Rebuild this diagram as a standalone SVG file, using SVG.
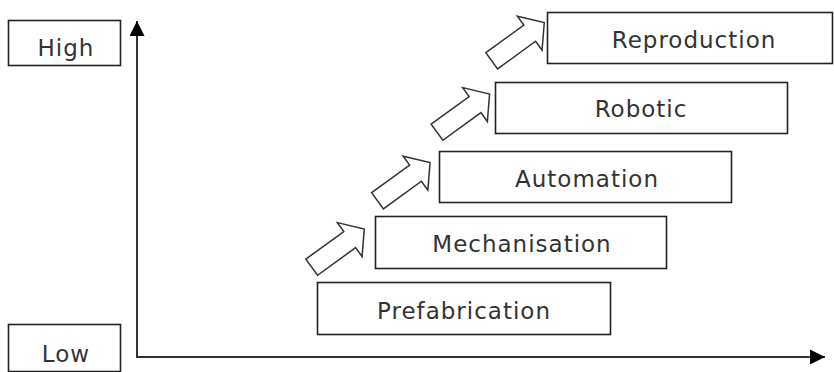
<svg xmlns="http://www.w3.org/2000/svg" width="834" height="372" viewBox="0 0 834 372">
<style>
.box{fill:#fff;stroke:#222;stroke-width:1.6}
.lbl{font-family:"DejaVu Sans",sans-serif;font-size:23px;letter-spacing:1px;fill:#333;text-anchor:middle}
.axis{stroke:#333;stroke-width:2;fill:none}
.barrow{fill:#fff;stroke:#333;stroke-width:1.5;stroke-linejoin:miter}
</style>
<defs>
<marker id="ah" markerUnits="userSpaceOnUse" markerWidth="16" markerHeight="16" refX="15" refY="8" orient="auto">
<path d="M0,0.5 L15,8 L0,15.5 z" fill="#000"/>
</marker>
<polygon id="ba" points="0,-10 47,-10 47,-21 65,0 47,21 47,10 0,10"/>
</defs>
<g id="axes" class="connectors">
<polyline class="axis" points="137,357 137,21" marker-end="url(#ah)"/>
<polyline class="axis" points="136,357 825,357" marker-end="url(#ah)"/>
</g>
<g id="high"><rect class="box" x="8.5" y="20.5" width="112" height="45"/><text class="lbl" x="66" y="56">High</text></g>
<g id="low"><rect class="box" x="8.5" y="324.5" width="112" height="47"/><text class="lbl" x="66" y="362">Low</text></g>
<g id="connectors">
<use href="#ba" class="barrow" transform="translate(311.7,267.2) rotate(-36)"/>
<use href="#ba" class="barrow" transform="translate(377.5,200.8) rotate(-36)"/>
<use href="#ba" class="barrow" transform="translate(437,132.2) rotate(-36)"/>
<use href="#ba" class="barrow" transform="translate(491.7,60.8) rotate(-36)"/>
</g>
<g id="prefabrication"><rect class="box" x="317.5" y="282.5" width="293" height="52"/><text class="lbl" x="464" y="319">Prefabrication</text></g>
<g id="mechanisation"><rect class="box" x="375.5" y="216.5" width="291" height="52"/><text class="lbl" x="522" y="252">Mechanisation</text></g>
<g id="automation"><rect class="box" x="439.5" y="151.5" width="292" height="51"/><text class="lbl" x="587" y="187">Automation</text></g>
<g id="robotic"><rect class="box" x="495.5" y="82.5" width="292" height="51"/><text class="lbl" x="641" y="117">Robotic</text></g>
<g id="reproduction"><rect class="box" x="547.5" y="12.5" width="285" height="51"/><text class="lbl" x="694" y="48">Reproduction</text></g>
</svg>
